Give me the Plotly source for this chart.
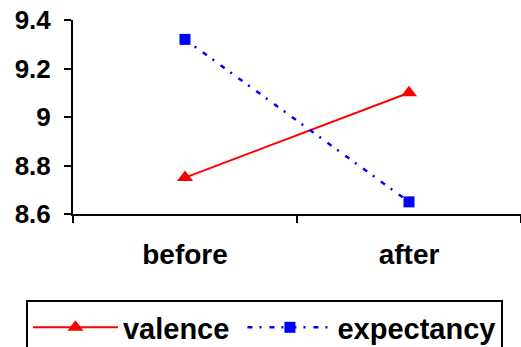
import plotly.graph_objects as go

categories = ["before", "after"]
valence = [8.75, 9.10]
expectancy = [9.32, 8.65]
y_ticks = [8.6, 8.8, 9.0, 9.2, 9.4]
y_tick_labels = ["8.6", "8.8", "9", "9.2", "9.4"]

FONT = "Liberation Sans, Arial, sans-serif"

fig = go.Figure()
fig.add_trace(go.Scatter(
    x=categories, y=valence, name="valence\u00a0", mode="lines+markers",
    line=dict(color="#FF0000", width=2),
    marker=dict(symbol="triangle-up", size=14, color="#FF0000"),
))
fig.add_trace(go.Scatter(
    x=categories, y=expectancy, name="expectancy", mode="lines+markers",
    line=dict(color="#0000FF", width=2.5, dash="5px,7px,2px,8px"),
    marker=dict(symbol="square", size=11, color="#0000FF"),
))

fig.update_layout(
    width=521, height=347,
    margin=dict(l=73, r=0, t=20, b=133, autoexpand=False),
    paper_bgcolor="white", plot_bgcolor="white",
    font=dict(family=FONT, size=24, color="black"),
    showlegend=True,
    legend=dict(
        orientation="h", x=-0.105, y=-0.443, xanchor="left", yanchor="top",
        bordercolor="black", borderwidth=2,
        font=dict(family=FONT, size=29, color="black", weight="bold"),
        itemwidth=85, tracegroupgap=0,
    ),
    xaxis=dict(
        type="category", range=[-0.5, 1.5], tickson="boundaries",
        showline=True, linecolor="black", linewidth=2,
        ticks="outside", ticklen=7, tickwidth=2, tickcolor="black",
        tickfont=dict(family=FONT, size=28, weight="bold"),
        ticklabelstandoff=14, showgrid=False, zeroline=False,
    ),
    yaxis=dict(
        range=[8.6, 9.4], tickvals=y_ticks, ticktext=y_tick_labels,
        showline=True, linecolor="black", linewidth=2,
        ticks="outside", ticklen=7, tickwidth=2, tickcolor="black",
        tickfont=dict(family=FONT, size=26, weight="bold"),
        ticklabelstandoff=8, showgrid=False, zeroline=False,
    ),
)

fig.write_html("out.html")
